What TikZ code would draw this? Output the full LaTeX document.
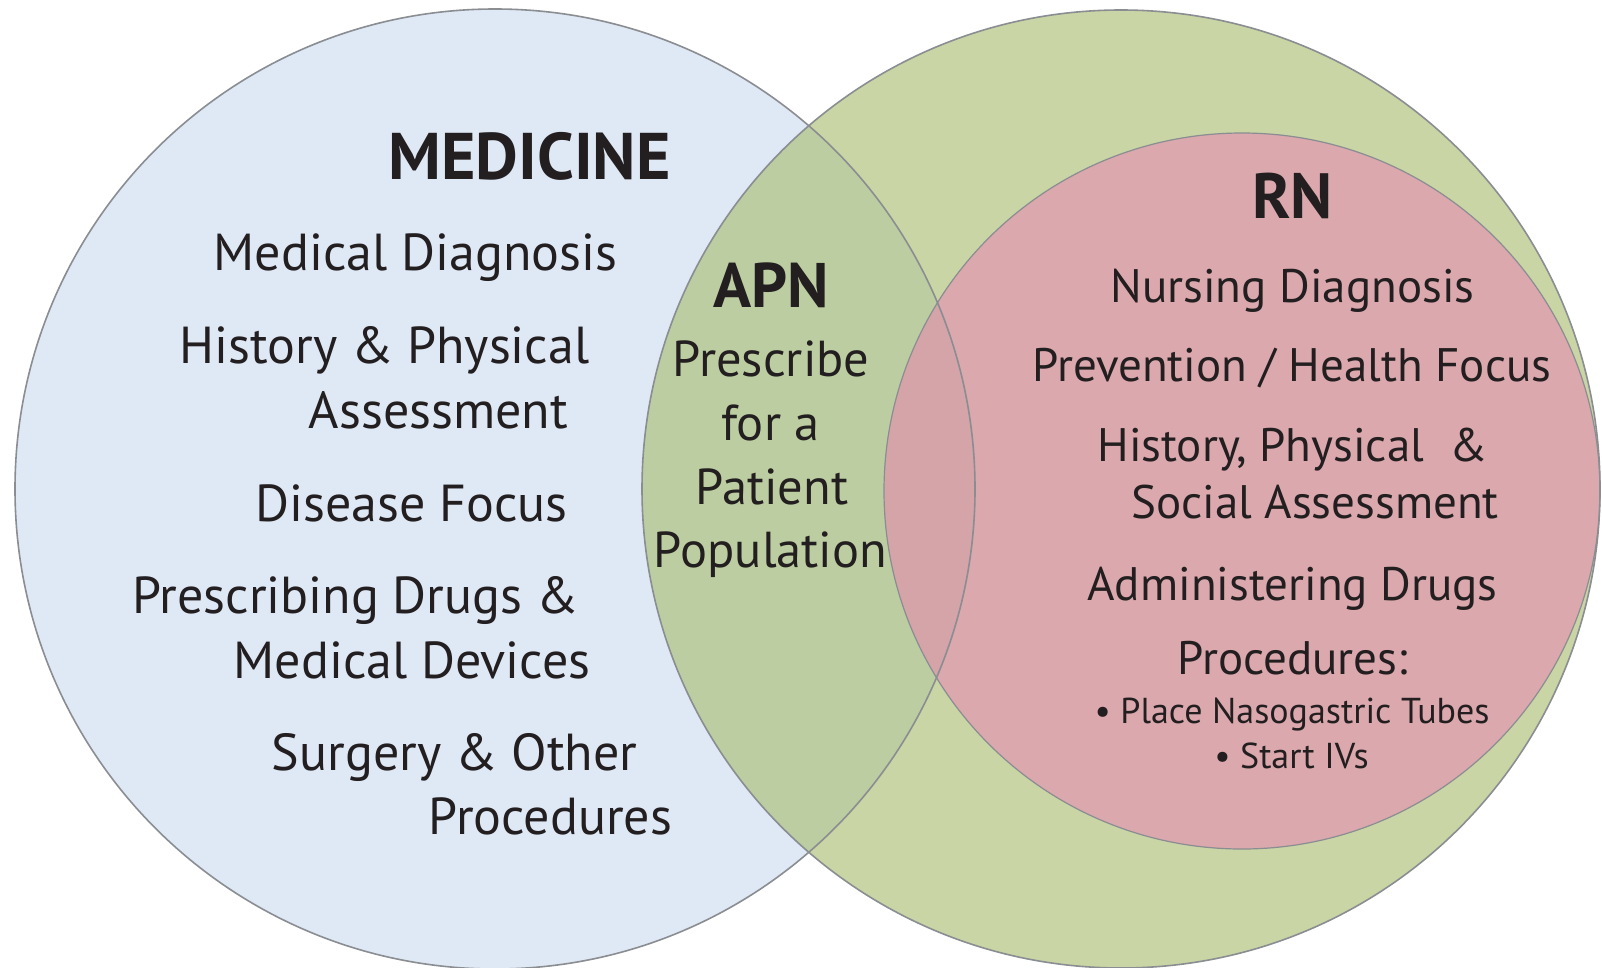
\documentclass[tikz,border=0pt]{standalone}
\usepackage{fontspec}
\setmainfont{PT Sans}
\definecolor{txt}{HTML}{231F20}
\definecolor{medblue}{HTML}{DFE8F5}
\definecolor{apngreen}{HTML}{C9D5A5}
\definecolor{overgreen}{HTML}{BCCEA1}
\definecolor{rnred}{HTML}{DAA8AD}
\definecolor{overred}{HTML}{D4A4A9}
\definecolor{edge}{HTML}{8A8D91}
\begin{document}
\begin{tikzpicture}[x=1pt,y=-1pt,
  lbl/.style={anchor=base,inner sep=0pt,outer sep=0pt,text=txt},
  big/.style={lbl,font=\fontsize{52}{58}\selectfont},
  mid/.style={lbl,font=\fontsize{47}{53}\selectfont},
  apnt/.style={lbl,font=\fontsize{50.5}{56}\selectfont},
  small/.style={lbl,font=\fontsize{36}{41}\selectfont},
  title/.style={lbl,font=\bfseries\fontsize{66}{72}\selectfont},
  ring/.style={draw=edge,line width=1.6pt}]
\useasboundingbox (0,0) rectangle (1602,967);
\clip (0,0) rectangle (1602,967);
\coordinate (cM) at (495,489);
\coordinate (cA) at (1121,489);
\coordinate (cR) at (1242,491);
% fills
\fill[medblue] (cM) circle[radius=480];
\fill[apngreen] (cA) circle[radius=479];
\begin{scope}
  \clip (cM) circle[radius=480];
  \fill[overgreen] (cA) circle[radius=479];
\end{scope}
\fill[rnred] (cR) circle[radius=358];
\begin{scope}
  \clip (cM) circle[radius=480];
  \fill[overred] (cR) circle[radius=358];
\end{scope}
% outlines
\draw[ring] (cM) circle[radius=480];
\draw[ring] (cA) circle[radius=479];
\draw[ring,line width=1.2pt] (cR) circle[radius=358];
% MEDICINE
\node[title] (med) at (529.5,179) {MEDICINE};
\node[big] (m1) at (415.5,270) {Medical Diagnosis};
\node[big] (m2) at (384.5,363) {History \& Physical};
\node[big] (m3) at (438.5,428) {Assessment};
\node[big] (m4) at (411.5,521) {Disease Focus};
\node[big] (m5) at (355.5,613) {Prescribing Drugs \&};
\node[big] (m6) at (412,678) {Medical Devices};
\node[big] (m7) at (454.5,770) {Surgery \& Other};
\node[big] (m8) at (550.5,834) {Procedures};
% APN
\node[title,font=\bfseries\fontsize{63}{68}\selectfont] (apn) at (771,307) {APN};
\node[apnt] (a1) at (771,376) {Prescribe};
\node[apnt] (a2) at (770.5,440) {for a};
\node[apnt] (a3) at (772,504) {Patient};
\node[apnt] (a4) at (770.5,567) {Population};
% RN
\node[title,font=\bfseries\fontsize{64}{70}\selectfont] (rn) at (1292.5,218) {RN};
\node[mid] (r1) at (1292.5,302) {Nursing Diagnosis};
\node[mid] (r2) at (1292,381) {Prevention / Health Focus};
\node[mid] (r3) at (1292.5,461) {History, Physical\ \ \&};
\node[mid] (r4) at (1315,518) {Social Assessment};
\node[mid] (r5) at (1292.5,600) {Administering Drugs};
\node[mid] (r6) at (1292.5,674) {Procedures:};
\node[small] (r7) at (1292,723) {\textbullet\ Place Nasogastric Tubes};
\node[small] (r8) at (1291.5,768) {\textbullet\ Start IVs};
\end{tikzpicture}
\end{document}
